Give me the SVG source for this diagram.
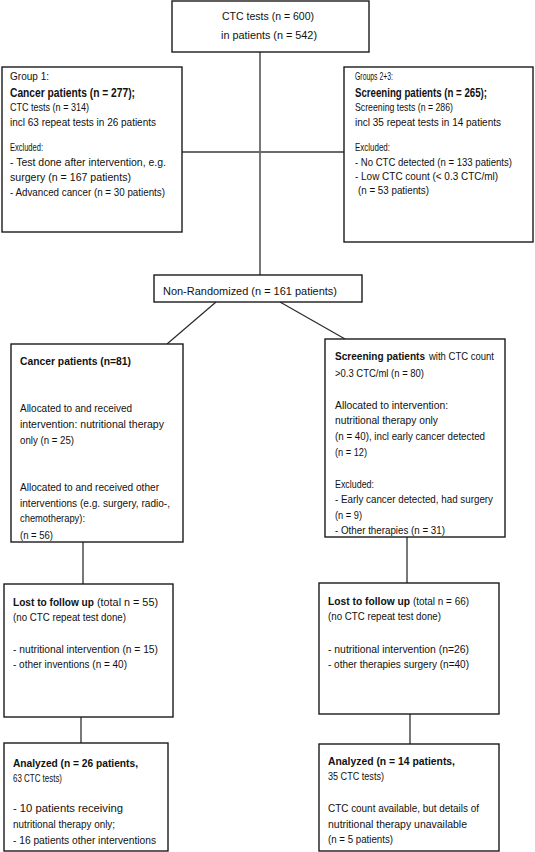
<svg xmlns="http://www.w3.org/2000/svg" width="535" height="852" viewBox="0 0 535 852">
<style>
.box{fill:#fff;stroke:#1a1a1a;stroke-width:1.4}
.con{stroke:#6a6a6a;stroke-width:1.8;fill:none}
.diag{stroke:#2a2a2a;stroke-width:1.2;fill:none}
text{font-family:"Liberation Sans",Arial,sans-serif;font-size:11px;fill:#111}
.b{font-weight:bold}
.h{font-size:12.5px;font-weight:bold}
.s{font-size:10px;font-weight:normal}
</style>
<rect width="535" height="852" fill="#fff"/>
<g id="connectors">
<line class="con" x1="260" y1="52" x2="260" y2="275"/>
<line class="con" x1="182" y1="152" x2="344" y2="152"/>
<line class="diag" x1="216" y1="302" x2="167" y2="344"/>
<line class="diag" x1="280" y1="302" x2="345" y2="339"/>
<line class="con" x1="83" y1="542" x2="83" y2="584"/>
<line class="con" x1="407" y1="537" x2="407" y2="583"/>
<line class="con" x1="81" y1="717" x2="81" y2="743"/>
<line class="con" x1="410" y1="714" x2="410" y2="744"/>
</g>
<g id="top">
<rect class="box" x="172" y="1" width="197" height="51"/>
<text x="222" y="20" font-size="12.5" textLength="92" lengthAdjust="spacingAndGlyphs">CTC tests (n = 600)</text>
<text x="221" y="39" font-size="12.5" textLength="96" lengthAdjust="spacingAndGlyphs">in patients (n = 542)</text>
</g>
<g id="group1">
<rect class="box" x="2" y="67" width="180" height="165"/>
<text x="10" y="80" textLength="39" lengthAdjust="spacingAndGlyphs">Group 1:</text>
<text x="10" y="97" class="h" textLength="125" lengthAdjust="spacingAndGlyphs">Cancer patients (n = 277);</text>
<text x="10" y="111" textLength="79" lengthAdjust="spacingAndGlyphs">CTC tests (n = 314)</text>
<text x="10" y="126" textLength="146" lengthAdjust="spacingAndGlyphs">incl 63 repeat tests in 26 patients</text>
<text x="10" y="151" textLength="33" lengthAdjust="spacingAndGlyphs">Excluded:</text>
<text x="10" y="166" textLength="156" lengthAdjust="spacingAndGlyphs">- Test done after intervention, e.g.</text>
<text x="10" y="181" textLength="121" lengthAdjust="spacingAndGlyphs">surgery (n = 167 patients)</text>
<text x="10" y="196" textLength="155" lengthAdjust="spacingAndGlyphs">- Advanced cancer (n = 30 patients)</text>
</g>
<g id="groups23">
<rect class="box" x="344" y="67" width="189" height="175"/>
<text x="355" y="80" textLength="38" lengthAdjust="spacingAndGlyphs">Groups 2+3:</text>
<text x="355" y="97" class="h" textLength="132" lengthAdjust="spacingAndGlyphs">Screening patients (n = 265);</text>
<text x="355" y="111" textLength="98" lengthAdjust="spacingAndGlyphs">Screening tests (n = 286)</text>
<text x="355" y="126" textLength="146" lengthAdjust="spacingAndGlyphs">incl 35 repeat tests in 14 patients</text>
<text x="355" y="151" textLength="35" lengthAdjust="spacingAndGlyphs">Excluded:</text>
<text x="355" y="166" textLength="157" lengthAdjust="spacingAndGlyphs">- No CTC detected (n = 133 patients)</text>
<text x="355" y="180" textLength="143" lengthAdjust="spacingAndGlyphs">- Low CTC count (&lt; 0.3 CTC/ml)</text>
<text x="358" y="194" textLength="71" lengthAdjust="spacingAndGlyphs">(n = 53 patients)</text>
</g>
<g id="nonrandomized">
<rect class="box" x="154" y="275" width="208" height="27"/>
<text x="163" y="295" font-size="12.5" textLength="174" lengthAdjust="spacingAndGlyphs">Non-Randomized (n = 161 patients)</text>
</g>
<g id="cancer">
<rect class="box" x="11" y="344" width="172" height="198"/>
<text x="20" y="365" class="b" font-size="12" textLength="111" lengthAdjust="spacingAndGlyphs">Cancer patients (n=81)</text>
<text x="20" y="412" textLength="112" lengthAdjust="spacingAndGlyphs">Allocated to and received</text>
<text x="20" y="428" textLength="144" lengthAdjust="spacingAndGlyphs">intervention: nutritional therapy</text>
<text x="20" y="444" textLength="54" lengthAdjust="spacingAndGlyphs">only (n = 25)</text>
<text x="20" y="491" textLength="139" lengthAdjust="spacingAndGlyphs">Allocated to and received other</text>
<text x="20" y="507" textLength="150" lengthAdjust="spacingAndGlyphs">interventions (e.g. surgery, radio-,</text>
<text x="20" y="522" textLength="65" lengthAdjust="spacingAndGlyphs">chemotherapy):</text>
<text x="20" y="539" textLength="33" lengthAdjust="spacingAndGlyphs">(n = 56)</text>
</g>
<g id="screening">
<rect class="box" x="325" y="339" width="180" height="198"/>
<text x="335" y="360" class="b" font-size="12" textLength="90" lengthAdjust="spacingAndGlyphs">Screening patients</text>
<text x="429" y="360" textLength="65" lengthAdjust="spacingAndGlyphs">with CTC count</text>
<text x="335" y="377" textLength="89" lengthAdjust="spacingAndGlyphs">&gt;0.3 CTC/ml (n = 80)</text>
<text x="335" y="409" textLength="113" lengthAdjust="spacingAndGlyphs">Allocated to intervention:</text>
<text x="335" y="424" textLength="103" lengthAdjust="spacingAndGlyphs">nutritional therapy only</text>
<text x="335" y="440" textLength="150" lengthAdjust="spacingAndGlyphs">(n = 40), incl early cancer detected</text>
<text x="335" y="456" textLength="32" lengthAdjust="spacingAndGlyphs">(n = 12)</text>
<text x="335" y="488" textLength="39" lengthAdjust="spacingAndGlyphs">Excluded:</text>
<text x="335" y="503" textLength="158" lengthAdjust="spacingAndGlyphs">- Early cancer detected, had surgery</text>
<text x="335" y="519" textLength="27" lengthAdjust="spacingAndGlyphs">(n = 9)</text>
<text x="335" y="534" textLength="110" lengthAdjust="spacingAndGlyphs">- Other therapies (n = 31)</text>
</g>
<g id="lost1">
<rect class="box" x="4" y="584" width="169" height="133"/>
<text x="13" y="606" class="b" font-size="12" textLength="81" lengthAdjust="spacingAndGlyphs">Lost to follow up</text>
<text x="97" y="606" class="s" textLength="61" lengthAdjust="spacingAndGlyphs">(total n = 55)</text>
<text x="13" y="621" textLength="113" lengthAdjust="spacingAndGlyphs">(no CTC repeat test done)</text>
<text x="13" y="653" textLength="145" lengthAdjust="spacingAndGlyphs">- nutritional intervention (n = 15)</text>
<text x="13" y="668" textLength="114" lengthAdjust="spacingAndGlyphs">- other inventions (n = 40)</text>
</g>
<g id="lost2">
<rect class="box" x="319" y="583" width="180" height="131"/>
<text x="328" y="605" class="b" font-size="12" textLength="82" lengthAdjust="spacingAndGlyphs">Lost to follow up</text>
<text x="413" y="605" class="s" textLength="56" lengthAdjust="spacingAndGlyphs">(total n = 66)</text>
<text x="328" y="620" textLength="113" lengthAdjust="spacingAndGlyphs">(no CTC repeat test done)</text>
<text x="328" y="653" textLength="141" lengthAdjust="spacingAndGlyphs">- nutritional intervention (n=26)</text>
<text x="328" y="668" textLength="141" lengthAdjust="spacingAndGlyphs">- other therapies surgery (n=40)</text>
</g>
<g id="analyzed1">
<rect class="box" x="4" y="743" width="164" height="108"/>
<text x="13" y="767" class="b" font-size="12" textLength="125" lengthAdjust="spacingAndGlyphs">Analyzed (n = 26 patients,</text>
<text x="13" y="782" textLength="49" lengthAdjust="spacingAndGlyphs">63 CTC tests)</text>
<text x="13" y="812" textLength="110" lengthAdjust="spacingAndGlyphs">- 10 patients receiving</text>
<text x="13" y="828" textLength="102" lengthAdjust="spacingAndGlyphs">nutritional therapy only;</text>
<text x="13" y="844" textLength="143" lengthAdjust="spacingAndGlyphs">- 16 patients other interventions</text>
</g>
<g id="analyzed2">
<rect class="box" x="319" y="744" width="180" height="107"/>
<text x="328" y="765" class="b" font-size="12" textLength="127" lengthAdjust="spacingAndGlyphs">Analyzed (n = 14 patients,</text>
<text x="328" y="780" class="s" textLength="56" lengthAdjust="spacingAndGlyphs">35 CTC tests)</text>
<text x="328" y="812" textLength="151" lengthAdjust="spacingAndGlyphs">CTC count available, but details of</text>
<text x="328" y="828" textLength="139" lengthAdjust="spacingAndGlyphs">nutritional therapy unavailable</text>
<text x="328" y="843" textLength="65" lengthAdjust="spacingAndGlyphs">(n = 5 patients)</text>
</g>
</svg>
